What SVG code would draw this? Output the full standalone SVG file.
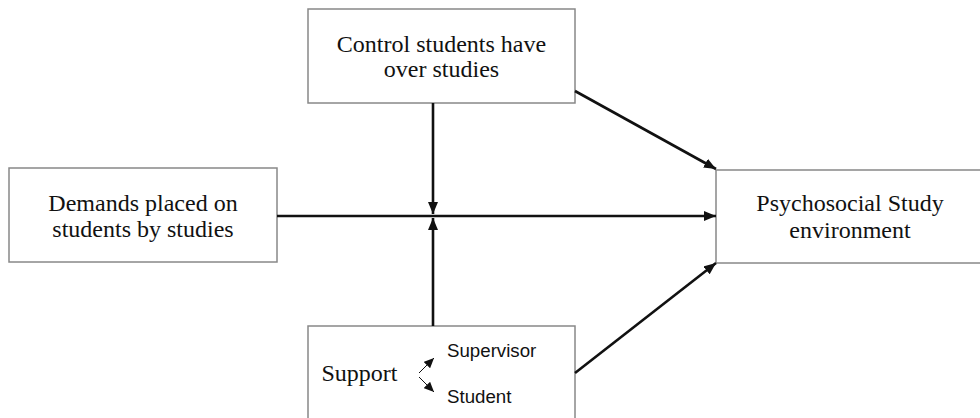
<svg xmlns="http://www.w3.org/2000/svg" width="980" height="418" viewBox="0 0 980 418">
<defs>
<marker id="ah" viewBox="0 0 12 10" refX="12" refY="5" markerWidth="12" markerHeight="10" markerUnits="userSpaceOnUse" orient="auto">
<path d="M0,0 L12,5 L0,10 Z" fill="#111"/>
</marker>
<marker id="ahs" viewBox="0 0 10 9" refX="10" refY="4.5" markerWidth="10" markerHeight="9" markerUnits="userSpaceOnUse" orient="auto">
<path d="M0,0 L10,4.5 L0,9 Z" fill="#111"/>
</marker>
<style>
.box{fill:#fff;stroke:#888;stroke-width:1.5}
.t{font-family:"Liberation Serif","Times New Roman",serif;font-size:24px;fill:#111;text-anchor:middle}
.s{font-family:"Liberation Sans",Arial,sans-serif;font-size:18.7px;fill:#111}
.c{stroke:#111;stroke-width:2.6;fill:none;marker-end:url(#ah)}
.cs{stroke:#111;stroke-width:1;fill:none;marker-end:url(#ahs)}
</style>
</defs>
<rect width="980" height="418" fill="#fff"/>
<g id="control">
<rect class="box" x="308" y="9" width="267" height="94"/>
<text class="t" x="441.5" y="52">Control students have</text>
<text class="t" x="441.5" y="77">over studies</text>
</g>
<g id="demands">
<rect class="box" x="9" y="168" width="268" height="94"/>
<text class="t" x="143" y="211">Demands placed on</text>
<text class="t" x="143" y="237">students by studies</text>
</g>
<g id="environment">
<rect class="box" x="716" y="170" width="270" height="93"/>
<text class="t" x="850" y="211">Psychosocial Study</text>
<text class="t" x="850" y="238">environment</text>
</g>
<g id="support">
<rect class="box" x="308" y="326" width="267" height="100"/>
<text class="t" x="359.5" y="381">Support</text>
<text class="s" x="447" y="357">Supervisor</text>
<text class="s" x="447" y="403">Student</text>
<path class="cs" d="M419,373 L434,358"/>
<path class="cs" d="M419,377 L434,392"/>
</g>
<g id="connectors">
<path class="c" d="M277,216 L716,216"/>
<path class="c" d="M433,103 L433,214"/>
<path class="c" d="M433,326 L433,218"/>
<path class="c" d="M575,91 L716,169"/>
<path class="c" d="M575,373 L716,263"/>
</g>
</svg>
